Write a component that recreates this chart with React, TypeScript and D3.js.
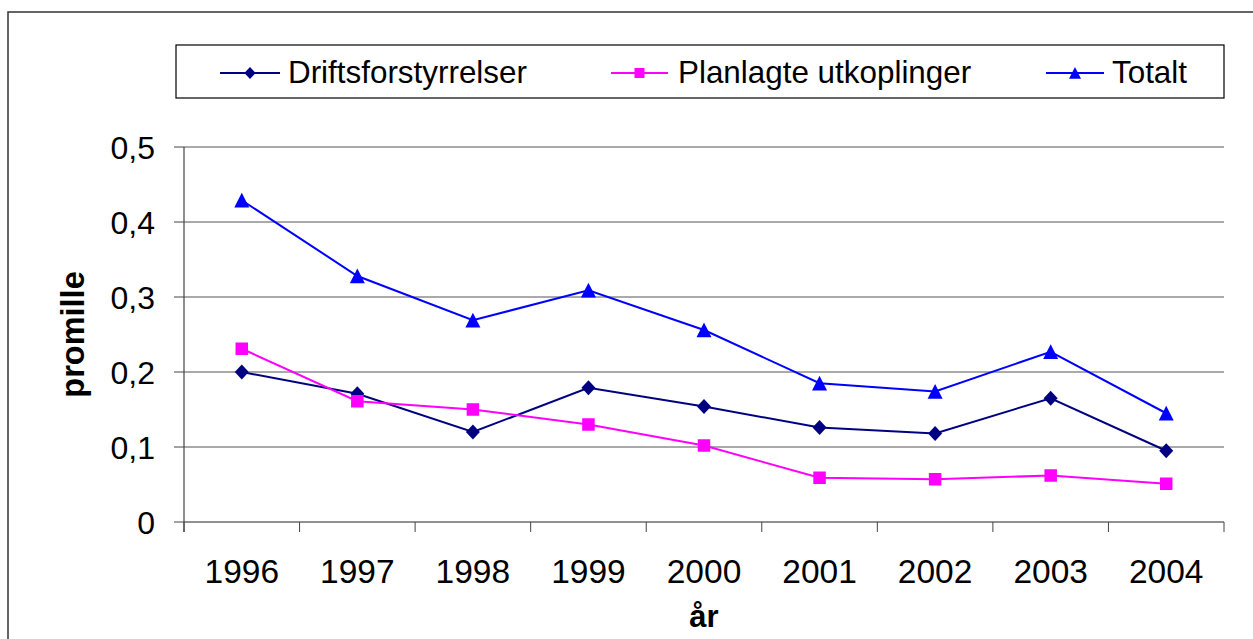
import React from "react";
import * as d3 from "d3";

const years = ["1996", "1997", "1998", "1999", "2000", "2001", "2002", "2003", "2004"];
const drifts = [0.2, 0.171, 0.12, 0.179, 0.154, 0.126, 0.118, 0.165, 0.095];
const planlagte = [0.231, 0.161, 0.15, 0.13, 0.102, 0.059, 0.057, 0.062, 0.051];
const totalt = [0.429, 0.328, 0.269, 0.309, 0.256, 0.185, 0.174, 0.227, 0.145];
const yTicks = [0, 0.1, 0.2, 0.3, 0.4, 0.5];
const seriesNames = ["Driftsforstyrrelser", "Planlagte utkoplinger", "Totalt"];

const W = 1253;
const H = 639;
const FONT = "'Liberation Sans', Arial, sans-serif";

type Shape = "diamond" | "square" | "triangle";

function Marker({ x, y, shape, color, k = 1 }: { x: number; y: number; shape: Shape; color: string; k?: number }) {
  if (shape === "diamond") {
    const rx = 7 * k;
    const ry = 7.5 * k;
    return <path d={`M${x},${y - ry}L${x + rx},${y}L${x},${y + ry}L${x - rx},${y}Z`} fill={color} />;
  }
  if (shape === "square") {
    const r = 6.25 * k;
    return <rect x={x - r} y={y - r} width={2 * r} height={2 * r} fill={color} />;
  }
  const r = 7.5 * k;
  return <path d={`M${x},${y - r}L${x + r},${y + r * 0.95}L${x - r},${y + r * 0.95}Z`} fill={color} />;
}

export default function App() {
  const left = 184;
  const right = 1224;
  const top = 147;
  const bottom = 522;

  const x = d3.scaleBand<string>().domain(years).range([left, right]).padding(0);
  const y = d3.scaleLinear().domain([0, 0.5]).range([bottom, top]);
  const cx = (yr: string) => (x(yr) as number) + x.bandwidth() / 2;

  const series: { name: string; values: number[]; color: string; shape: Shape }[] = [
    { name: seriesNames[0], values: drifts, color: "#000080", shape: "diamond" },
    { name: seriesNames[1], values: planlagte, color: "#FF00FF", shape: "square" },
    { name: seriesNames[2], values: totalt, color: "#0000FF", shape: "triangle" },
  ];

  const line = d3
    .line<number>()
    .x((_, i) => cx(years[i]))
    .y((d) => y(d));

  const legendItems = [
    { lineX0: 220, lineX1: 280, textX: 288 },
    { lineX0: 611, lineX1: 668, textX: 678 },
    { lineX0: 1046, lineX1: 1104, textX: 1112 },
  ];
  const legendY = 73;

  const boundaries = [...years.map((yr) => x(yr) as number), right];

  return (
    <svg
      width={W}
      height={H}
      style={{ position: "absolute", left: 0, top: 0, background: "#fff" }}
      fontFamily={FONT}
    >
      <rect x={0} y={0} width={W} height={H} fill="#fff" />
      {/* outer chart frame */}
      <rect x={8} y={12} width={W + 20} height={H + 20} fill="none" stroke="#333" strokeWidth={1.5} />

      {/* gridlines */}
      {yTicks.map((t) => (
        <line key={"g" + t} x1={left} x2={right} y1={y(t)} y2={y(t)} stroke={t === 0 ? "#222" : "#555"} strokeWidth={1} />
      ))}
      {/* y axis */}
      <line x1={left} x2={left} y1={top} y2={bottom + 10} stroke="#444" strokeWidth={1.2} />
      {yTicks.map((t) => (
        <g key={"yt" + t}>
          <line x1={left - 10} x2={left} y1={y(t)} y2={y(t)} stroke="#444" strokeWidth={1} />
          <text x={155} y={y(t)} dy="0.36em" textAnchor="end" fontSize={32} fill="#000">
            {String(t).replace(".", ",")}
          </text>
        </g>
      ))}
      {/* x axis ticks */}
      {boundaries.map((b, i) => (
        <line key={"xt" + i} x1={b} x2={b} y1={bottom} y2={bottom + 10} stroke="#444" strokeWidth={1} />
      ))}
      {years.map((yr) => (
        <text key={"xl" + yr} x={cx(yr)} y={583} textAnchor="middle" fontSize={33.5} fill="#000">
          {yr}
        </text>
      ))}

      {/* axis titles */}
      <text
        transform={`translate(84,${(top + bottom) / 2}) rotate(-90)`}
        textAnchor="middle"
        fontSize={32.5}
        fontWeight="bold"
        fill="#000"
      >
        promille
      </text>
      <text x={(left + right) / 2} y={627} textAnchor="middle" fontSize={31} fontWeight="bold" fill="#000">
        år
      </text>

      {/* series */}
      {series.map((s) => (
        <g key={s.name}>
          <path d={line(s.values) || ""} fill="none" stroke={s.color} strokeWidth={2} />
          {s.values.map((v, i) => (
            <Marker key={i} x={cx(years[i])} y={y(v)} shape={s.shape} color={s.color} />
          ))}
        </g>
      ))}

      {/* legend */}
      <rect x={176} y={45} width={1048} height={53} fill="#fff" stroke="#000" strokeWidth={1.2} />
      {series.map((s, i) => {
        const it = legendItems[i];
        return (
          <g key={"lg" + s.name}>
            <line x1={it.lineX0} x2={it.lineX1} y1={legendY} y2={legendY} stroke={s.color} strokeWidth={2} />
            <Marker x={(it.lineX0 + it.lineX1) / 2} y={legendY} shape={s.shape} color={s.color} k={0.8} />
            <text x={it.textX} y={83} fontSize={31.4} fill="#000">
              {s.name}
            </text>
          </g>
        );
      })}
    </svg>
  );
}
